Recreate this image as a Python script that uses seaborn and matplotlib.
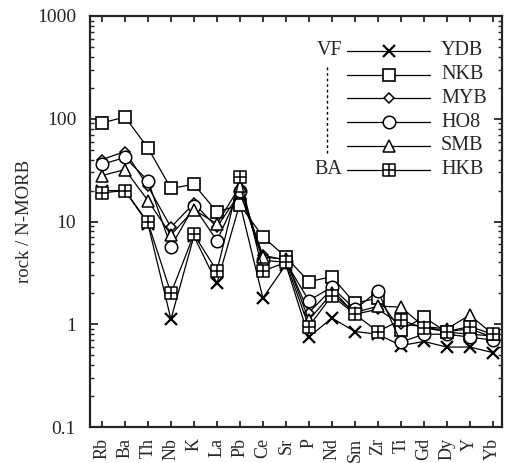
import numpy as np
import pandas as pd
import matplotlib
matplotlib.use("Agg")
import matplotlib.pyplot as plt
import matplotlib.ticker as mticker
from matplotlib.path import Path
import seaborn as sns

# Elements (N-MORB normalised spider diagram)
elements = ["Rb", "Ba", "Th", "Nb", "K", "La", "Pb", "Ce", "Sr",
            "P", "Nd", "Sm", "Zr", "Ti", "Gd", "Dy", "Y", "Yb"]

# rock / N-MORB values
ydb = [20, 20, 9.5, 1.12, 7.2, 2.5, 15, 1.8, 3.8,
       0.75, 1.15, 0.85, 0.8, 0.62, 0.68, 0.6, 0.6, 0.53]
nkb = [91, 104, 52, 21, 23, 12.4, 14.5, 7.1, 4.5,
       2.6, 2.9, 1.6, 1.8, 0.88, 1.17, 0.84, 0.8, 0.77]
myb = [40, 48, 22, 8.8, 15, 8.8, 19, 4.7, 4.2,
       1.3, 2.2, 1.25, 1.4, 1.0, 0.95, 0.85, 0.9, 0.75]
ho8 = [36, 42, 25, 5.7, 14, 6.5, 20, 4.2, 4.0,
       1.7, 2.3, 1.4, 2.1, 0.67, 0.8, 0.8, 0.75, 0.7]
smb = [28, 32, 16, 7.4, 13, 9.5, 22, 4.5, 4.3,
       1.1, 2.0, 1.3, 1.5, 1.47, 0.95, 0.9, 1.23, 0.8]
hkb = [19, 20, 9.8, 2.0, 7.5, 3.3, 27, 3.3, 4.0,
       0.95, 1.9, 1.25, 0.85, 1.1, 0.92, 0.85, 0.95, 0.8]

series_names = ["YDB", "NKB", "MYB", "HO8", "SMB", "HKB"]
series_vals = [ydb, nkb, myb, ho8, smb, hkb]

# square with a cross inside (boxplus marker)
boxplus = Path(
    [(-1, -1), (1, -1), (1, 1), (-1, 1), (-1, -1),
     (-1, 0), (1, 0), (0, -1), (0, 1)],
    [Path.MOVETO, Path.LINETO, Path.LINETO, Path.LINETO, Path.CLOSEPOLY,
     Path.MOVETO, Path.LINETO, Path.MOVETO, Path.LINETO]
)

styles = {
    "YDB": dict(marker="x", ms=9, mew=1.6),
    "NKB": dict(marker="s", ms=8.5, mew=1.2),
    "MYB": dict(marker="D", ms=5.5, mew=1.1),
    "HO8": dict(marker="o", ms=9, mew=1.1),
    "SMB": dict(marker="^", ms=8.5, mew=1.1),
    "HKB": dict(marker=boxplus, ms=8.5, mew=1.1),
}

df = pd.DataFrame({
    "x": np.tile(np.arange(len(elements)), len(series_names)),
    "value": np.concatenate(series_vals),
    "sample": np.repeat(series_names, len(elements)),
})

sns.set_style("ticks")
plt.rcParams["font.family"] = ["Liberation Serif", "DejaVu Serif"]

fig = plt.figure(figsize=(5.08, 4.63), dpi=100)
ax = fig.add_axes([90 / 508, 36 / 463, 412 / 508, 411 / 463])

for name in series_names:
    sub = df[df["sample"] == name]
    st = styles[name]
    sns.lineplot(
        data=sub, x="x", y="value", ax=ax,
        color="black", lw=0.9,
        marker=st["marker"], markersize=st["ms"], mew=st["mew"],
        mfc="white", mec="black", legend=False
    )

ax.set_yscale("log")
ax.set_ylim(0.1, 1000)
ax.set_xlim(-0.52, 17.4)
ax.set_xticks(np.arange(len(elements)))
ax.set_xticklabels(elements, rotation=90, fontsize=13)
ax.yaxis.set_major_locator(mticker.LogLocator(base=10, numticks=10))
ax.yaxis.set_minor_locator(mticker.LogLocator(base=10, subs=np.arange(2, 10), numticks=10))
ax.yaxis.set_major_formatter(mticker.FuncFormatter(lambda v, _: f"{v:g}"))
ax.yaxis.set_minor_formatter(mticker.NullFormatter())
ax.tick_params(axis="y", which="major", direction="in", length=6, width=1.3,
               right=True, labelsize=14, pad=10)
ax.tick_params(axis="y", which="minor", direction="in", length=3, width=1.0, right=True)
ax.tick_params(axis="x", which="major", direction="in", length=4.5, width=1.3,
               top=True, pad=8)
ax.set_xlabel("")
ax.set_ylabel("rock / N-MORB", fontsize=13.5, labelpad=3)
for sp in ax.spines.values():
    sp.set_linewidth(1.6)

# hand-built legend in the upper right
tr = ax.transAxes
y0, dy = 0.915, 0.0577
for i, name in enumerate(series_names):
    yy = y0 - i * dy
    st = styles[name]
    ax.plot([0.624, 0.825], [yy, yy], color="black", lw=0.9, transform=tr)
    ax.plot([0.726], [yy], transform=tr, ls="none", marker=st["marker"],
            ms=st["ms"], mew=st["mew"], mfc="white", mec="black")
    ax.text(0.852, yy, name, transform=tr, ha="left", va="center", fontsize=14.5)
ax.text(0.612, y0, "VF", transform=tr, ha="right", va="center", fontsize=14.5)
ax.text(0.612, y0 - 5 * dy, "BA", transform=tr, ha="right", va="center", fontsize=14.5)
ax.plot([0.575, 0.575], [0.876, 0.667], transform=tr, color="black",
        lw=1.0, ls=(0, (2, 2)))

fig.savefig("out.png", dpi=100)
